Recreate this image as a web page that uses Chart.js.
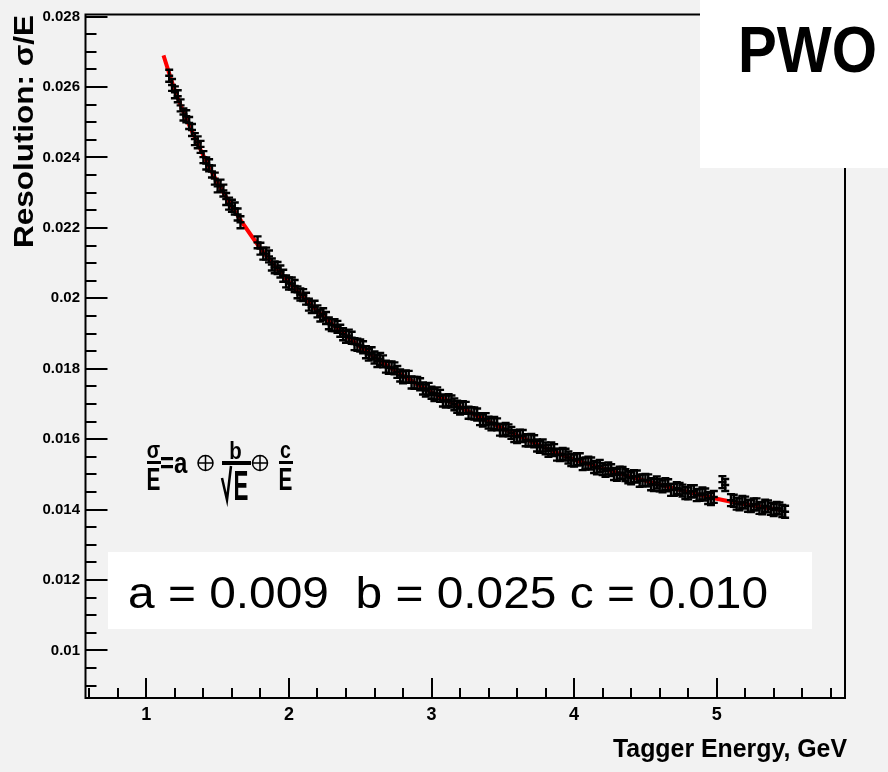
<!DOCTYPE html>
<html>
<head>
<meta charset="utf-8">
<script src="https://cdn.jsdelivr.net/npm/chart.js@4.4.1/dist/chart.umd.min.js"></script>
<style>
html,body{margin:0;padding:0;background:#f2f2f2;}
canvas{display:block;}
</style>
</head>
<body>
<canvas id="c" width="888" height="772"></canvas>
<script>
// --- Data ---
const dataE = [
  1.16,1.18,1.20,1.22,1.24,1.26,1.28,1.30,1.32,1.34,1.36,1.38,1.40,1.42,1.44,1.46,1.48,1.50,1.52,1.54,1.56,1.58,1.60,1.62,1.64,1.66,
  1.78,1.80,1.82,1.84,1.86,1.88,1.90,1.92,1.94,1.96,1.98,2.00,2.02,2.04,2.06,2.08,2.10,2.12,2.14,2.16,2.18,2.20,2.22,2.24,2.26,2.28,
  2.30,2.32,2.34,2.36,2.38,2.40,2.42,2.44,2.46,2.48,2.50,2.52,2.54,2.56,2.58,2.60,2.62,2.64,2.66,2.68,2.70,2.72,2.74,2.76,2.78,2.80,
  2.82,2.84,2.86,2.88,2.90,2.92,2.94,2.96,2.98,3.00,3.02,3.04,3.06,3.08,3.10,3.12,3.14,3.16,3.18,3.20,3.22,3.24,3.26,3.28,3.30,3.32,
  3.34,3.36,3.38,3.40,3.42,3.44,3.46,3.48,3.50,3.52,3.54,3.56,3.58,3.60,3.62,3.64,3.66,3.68,3.70,3.72,3.74,3.76,3.78,3.80,3.82,3.84,
  3.86,3.88,3.90,3.92,3.94,3.96,3.98,4.00,4.02,4.04,4.06,4.08,4.10,4.12,4.14,4.16,4.18,4.20,4.22,4.24,4.26,4.28,4.30,4.32,4.34,4.36,
  4.38,4.40,4.42,4.44,4.46,4.48,4.50,4.52,4.54,4.56,4.58,4.60,4.62,4.64,4.66,4.68,4.70,4.72,4.74,4.76,4.78,4.80,4.82,4.84,4.86,4.88,
  4.90,4.92,4.94,4.96,4.98,
  5.04,5.06,
  5.10,5.12,5.14,5.16,5.18,5.20,5.22,5.24,5.26,5.28,5.30,5.32,5.34,5.36,5.38,5.40,5.42,5.44,5.46,5.48
];
const dataV = [
  0.02632,0.02606,0.02585,0.02574,0.02548,0.02522,0.02517,0.02498,0.02478,0.02452,0.02443,0.02430,0.02401,0.02383,0.02378,0.02360,
  0.02340,0.02318,0.02320,0.02306,0.02282,0.02269,0.02263,0.02255,0.02238,0.02216,
  0.02159,0.02141,0.02127,0.02127,0.02119,0.02096,0.02088,0.02086,0.02076,0.02064,0.02048,0.02042,0.02042,0.02035,0.02017,0.02011,
  0.02009,0.01999,0.01982,0.01975,0.01976,0.01963,0.01951,0.01955,0.01944,0.01929,0.01924,0.01924,0.01919,0.01908,0.01898,0.01891,
  0.01894,0.01888,0.01870,0.01868,0.01866,0.01861,0.01847,0.01840,0.01844,0.01832,0.01822,0.01828,0.01821,0.01806,0.01803,0.01804,
  0.01801,0.01791,0.01781,0.01776,0.01778,0.01777,0.01761,0.01760,0.01760,0.01756,0.01744,0.01738,0.01743,0.01732,0.01725,0.01730,
  0.01723,0.01710,0.01707,0.01711,0.01707,0.01699,0.01692,0.01687,0.01691,0.01689,0.01675,0.01674,0.01673,0.01670,0.01657,0.01653,
  0.01657,0.01647,0.01642,0.01646,0.01642,0.01627,0.01625,0.01629,0.01625,0.01618,0.01609,0.01606,0.01610,0.01609,0.01597,0.01596,
  0.01598,0.01594,0.01582,0.01578,0.01582,0.01574,0.01567,0.01574,0.01569,0.01556,0.01555,0.01558,0.01556,0.01548,0.01541,0.01539,
  0.01543,0.01543,0.01529,0.01531,0.01533,0.01531,0.01521,0.01517,0.01524,0.01515,0.01510,0.01517,0.01512,0.01501,0.01499,0.01505,
  0.01504,0.01498,0.01492,0.01489,0.01495,0.01494,0.01482,0.01483,0.01484,0.01483,0.01472,0.01470,0.01477,0.01469,0.01466,0.01472,
  0.01469,0.01456,0.01456,0.01461,0.01459,0.01454,0.01447,0.01446,0.01452,0.01452,0.01441,0.01442,0.01446,0.01443,0.01433,0.01430,
  0.01436,
  0.01478,0.01470,
  0.01427,0.01425,0.01417,0.01415,0.01422,0.01420,0.01411,0.01410,0.01415,0.01415,0.01405,0.01404,0.01411,0.01409,0.01402,0.01399,
  0.01405,0.01403,0.01396,0.01394
];
const ERR = 0.00017; // half height of the error bars

// fit curve sigma/E = a (+) b/sqrt(E) (+) c/E
const fitE = [1.12,1.2,1.3,1.4,1.5,1.6,1.7,1.8,1.9,2.0,2.2,2.4,2.6,2.8,3.0,3.2,3.4,3.6,3.8,4.0,4.2,4.4,4.6,4.8,5.0,5.2,5.46];
const fitV = [0.02690,0.02590,0.02492,0.02405,0.02328,0.02260,0.02199,0.02142,0.02092,0.02046,0.01964,0.01894,0.01833,0.01780,
              0.01733,0.01691,0.01650,0.01611,0.01575,0.01542,0.01517,0.01493,0.01471,0.01450,0.01431,0.01415,0.01398];

const xTicks = [1,2,3,4,5];
const yTicks = [0.01,0.012,0.014,0.016,0.018,0.02,0.022,0.024,0.026,0.028];

const xTitle = 'Tagger Energy, GeV';
const yTitle = 'Resolution: σ/E';
const boxLabel = 'PWO';
const paramText = 'a = 0.009  b = 0.025 c = 0.010';

// --- Helpers ---
function drawText(ctx, txt, x, y, font, o) {
  o = o || {};
  ctx.save();
  ctx.font = font;
  const m = ctx.measureText(txt).width;
  const sx = o.w ? o.w / m : (o.sx || 1);
  ctx.translate(x, y);
  if (o.rot) ctx.rotate(o.rot);
  ctx.scale(sx, 1);
  ctx.textAlign = o.align || 'left';
  ctx.textBaseline = 'alphabetic';
  ctx.fillStyle = '#000';
  ctx.fillText(txt, 0, 0);
  ctx.restore();
}
function oplus(ctx, cx, cy, r) {
  ctx.beginPath();
  ctx.arc(cx, cy, r, 0, Math.PI*2);
  ctx.moveTo(cx-r, cy); ctx.lineTo(cx+r, cy);
  ctx.moveTo(cx, cy-r); ctx.lineTo(cx, cy+r);
  ctx.stroke();
}

// --- Plugins ---
const bgPlugin = {
  id: 'bg',
  beforeDraw(chart) {
    const ctx = chart.ctx;
    ctx.save();
    ctx.fillStyle = '#f2f2f2';
    ctx.fillRect(0, 0, chart.width, chart.height);
    ctx.restore();
  }
};

const errorBars = {
  id: 'errorBars',
  afterDatasetsDraw(chart) {
    const {ctx, scales: {x, y}} = chart;
    ctx.save();
    ctx.strokeStyle = '#000';
    ctx.lineWidth = 2.4;
    dataE.forEach((e, i) => {
      const px = x.getPixelForValue(e);
      const v = dataV[i];
      const top = y.getPixelForValue(v + ERR), bot = y.getPixelForValue(v - ERR), mid = y.getPixelForValue(v);
      ctx.beginPath();
      ctx.moveTo(px, top); ctx.lineTo(px, bot);
      ctx.moveTo(px-4, top); ctx.lineTo(px+4, top);
      ctx.moveTo(px-4, bot); ctx.lineTo(px+4, bot);
      ctx.moveTo(px-4, mid); ctx.lineTo(px+4, mid);
      ctx.stroke();
    });
    ctx.restore();
  }
};

const framePlugin = {
  id: 'frame',
  afterDraw(chart) {
    const {ctx, chartArea: a, scales: {x, y}} = chart;
    ctx.save();
    ctx.strokeStyle = '#000';
    ctx.lineWidth = 2;
    // frame
    ctx.strokeRect(a.left, a.top, a.right - a.left, a.bottom - a.top);
    // y ticks (inward)
    ctx.beginPath();
    for (let k = 18; k <= 56; k++) {
      const py = Math.round(y.getPixelForValue(k * 0.0005));
      const len = k % 4 === 0 ? 22 : 11;
      ctx.moveTo(a.left, py); ctx.lineTo(a.left + len, py);
    }
    // x ticks
    for (let k = 3; k <= 29; k++) {
      const px = Math.round(x.getPixelForValue(k * 0.2));
      const len = k % 5 === 0 ? 20 : 10;
      ctx.moveTo(px, a.bottom); ctx.lineTo(px, a.bottom - len);
    }
    ctx.stroke();

    // titles
    drawText(ctx, yTitle, 33, 131.5, 'bold 28px "Liberation Sans", Arial, sans-serif', {rot: -Math.PI/2, align: 'center', w: 233});
    drawText(ctx, xTitle, 847, 757, 'bold 25px "Liberation Sans", Arial, sans-serif', {align: 'right', w: 234});

    // PWO box
    ctx.fillStyle = '#ffffff';
    ctx.fillRect(700, 0, 188, 168);
    drawText(ctx, boxLabel, 738, 72, 'bold 65px "Liberation Sans", Arial, sans-serif', {w: 139});

    // parameter box
    ctx.fillStyle = '#ffffff';
    ctx.fillRect(108, 552, 704, 77);
    drawText(ctx, paramText, 128, 608, '45px "Liberation Sans", Arial, sans-serif', {w: 640});

    // formula  sigma/E = a (+) b/sqrtE (+) c/E
    const fb = 'bold 23px "Liberation Sans", Arial, sans-serif';
    const fE = 'bold 32px "Liberation Sans", Arial, sans-serif';
    drawText(ctx, 'σ', 153.5, 458, fb, {align: 'center', sx: 0.85});
    ctx.fillStyle = '#000';
    ctx.fillRect(147, 461, 14, 3);
    drawText(ctx, 'E', 153.5, 490, fE, {align: 'center', sx: 0.65});
    drawText(ctx, '=a', 160, 473, 'bold 30px "Liberation Sans", Arial, sans-serif', {sx: 0.8});
    ctx.lineWidth = 1.5;
    oplus(ctx, 205.5, 463, 7.5);
    drawText(ctx, 'b', 235.5, 459, 'bold 24px "Liberation Sans", Arial, sans-serif', {align: 'center', sx: 0.85});
    ctx.fillRect(222, 461, 29, 4);
    ctx.lineWidth = 2.5;
    ctx.beginPath();
    ctx.moveTo(222, 478); ctx.lineTo(227, 500); ctx.lineTo(231, 466);
    ctx.stroke();
    drawText(ctx, 'E', 241, 500, 'bold 43px "Liberation Sans", Arial, sans-serif', {align: 'center', sx: 0.52});
    ctx.lineWidth = 1.5;
    oplus(ctx, 260, 463, 7.5);
    drawText(ctx, 'c', 285.5, 458, 'bold 23px "Liberation Sans", Arial, sans-serif', {align: 'center', sx: 0.85});
    ctx.fillRect(279, 461, 14, 3);
    drawText(ctx, 'E', 285.5, 490, fE, {align: 'center', sx: 0.65});
    ctx.restore();
  }
};

// --- Chart ---
const points = dataE.map((e, i) => ({x: e, y: dataV[i]}));
const fitPoints = fitE.map((e, i) => ({x: e, y: fitV[i]}));

new Chart(document.getElementById('c').getContext('2d'), {
  type: 'scatter',
  data: {
    datasets: [
      {data: points, pointRadius: 0, showLine: false, borderColor: '#000', backgroundColor: '#000'},
      {data: fitPoints, showLine: true, pointRadius: 0, borderColor: '#ff0000', borderWidth: 4, cubicInterpolationMode: 'monotone', fill: false}
    ]
  },
  options: {
    responsive: false,
    animation: false,
    events: [],
    layout: {padding: {top: 12, right: 43, left: 0, bottom: 0}},
    plugins: {legend: {display: false}, tooltip: {enabled: false}},
    scales: {
      x: {
        type: 'linear', min: 0.573, max: 5.90,
        grid: {display: false, drawTicks: false}, border: {display: false},
        afterBuildTicks: (s) => { s.ticks = xTicks.map(v => ({value: v})); },
        afterFit: (s) => { s.height = 74; },
        ticks: {color: '#000', padding: 6, font: {family: '"Liberation Sans", Arial, sans-serif', size: 18, weight: 'bold'},
                callback: (v) => String(v)}
      },
      y: {
        type: 'linear', min: 0.00865, max: 0.02806,
        grid: {display: false, drawTicks: false}, border: {display: false},
        afterBuildTicks: (s) => { s.ticks = yTicks.map(v => ({value: v})); },
        afterFit: (s) => { s.width = 85.5; },
        ticks: {color: '#000', padding: 5.5, font: {family: '"Liberation Sans", Arial, sans-serif', size: 15, weight: 'bold'},
                callback: (v) => String(+v.toFixed(3))}
      }
    }
  },
  plugins: [bgPlugin, errorBars, framePlugin]
});
</script>
</body>
</html>
